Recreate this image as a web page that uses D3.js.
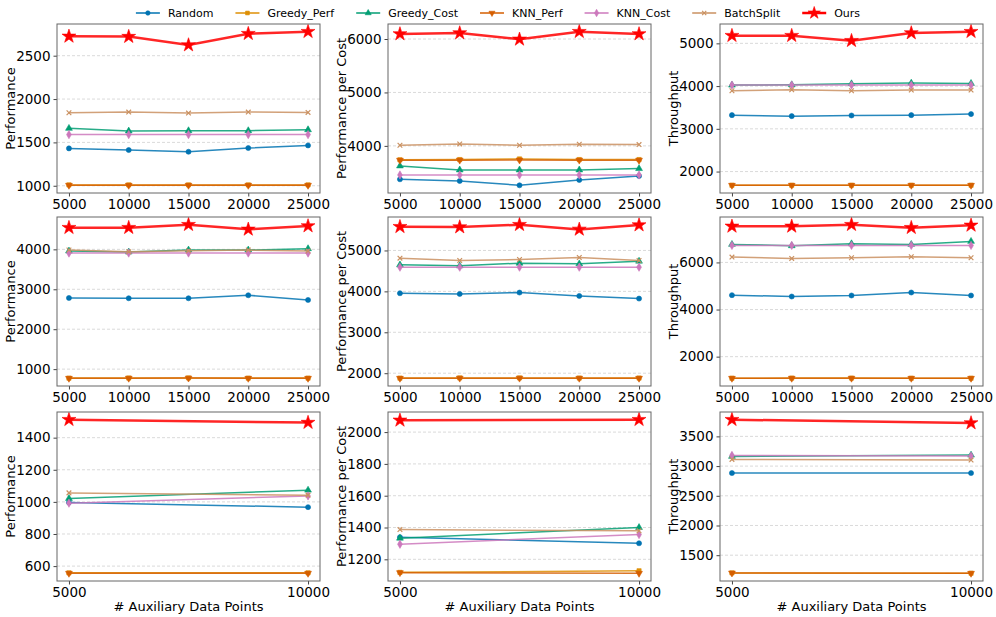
<!DOCTYPE html>
<html>
<head>
<meta charset="utf-8">
<script src="https://cdn.jsdelivr.net/npm/d3@7"></script>
<style>
body{margin:0;background:#fff}
text{font-family:"DejaVu Sans",sans-serif;fill:#000}
</style>
</head>
<body>
<svg id="chart"></svg>
<script>

// methods in the order they are plotted
var methods = ["Random","Greedy_Perf","Greedy_Cost","KNN_Perf","KNN_Cost","BatchSplit","Ours"]
var colors = ["#0173b2","#de8f05","#029e73","#d55e00","#cc78bc","#ca9161","#ff0000"]

var xLong = [5000,10000,15000,20000,25000]
var xShort = [5000,10000]

// one row per method, same order as methods
var r1c1 = [[1431,1412,1392,1435,1465],[1010,1010,1010,1010,1010],[1662,1631,1635,1635,1646],
            [1005,1005,1005,1005,1005],[1590,1590,1590,1590,1590],[1842,1850,1838,1850,1846],[2723,2720,2623,2754,2777]]
var r1c2 = [[3375,3344,3262,3362,3437],[3740,3744,3756,3744,3744],[3625,3550,3550,3550,3575],
            [3731,3733,3735,3733,3731],[3456,3456,3456,3456,3456],[4012,4037,4012,4031,4025],[6094,6112,5994,6137,6094]]
var r1c3 = [[3320,3297,3312,3320,3344],[1680,1680,1680,1680,1680],[4023,4031,4055,4070,4062],
            [1678,1678,1678,1678,1678],[4023,4023,4023,4023,4023],[3890,3914,3890,3906,3906],[5180,5180,5062,5242,5273]]
var r2c1 = [[2783,2775,2775,2850,2733],[775,778,780,775,775],[3958,3933,3983,3983,4017],
            [770,772,775,770,770],[3908,3908,3908,3908,3908],[3983,3941,3966,3983,3958],[4543,4543,4618,4501,4585]]
var r2c2 = [[3954,3938,3971,3889,3824],[1880,1885,1885,1882,1882],[4648,4624,4689,4673,4738],
            [1875,1878,1878,1876,1876],[4591,4591,4591,4591,4591],[4812,4755,4779,4828,4755],[5580,5572,5630,5515,5621]]
var r2c3 = [[4610,4553,4596,4723,4596],[1085,1090,1090,1085,1085],[6766,6709,6794,6766,6894],
            [1080,1082,1082,1080,1080],[6723,6723,6723,6723,6723],[6227,6170,6199,6241,6199],[7532,7532,7603,7475,7574]]
var r3c1 = [[996,967],[558,558],[1021,1073],[555,555],[992,1037],[1056,1042],[1512,1494]]
var r3c2 = [[1339,1301],[1118,1128],[1333,1400],[1116,1112],[1295,1356],[1387,1379],[2074,2078]]
var r3c3 = [[2882,2882],[1202,1197],[3163,3185],[1200,1195],[3180,3169],[3112,3101],[3781,3725]]

var ticks1 = [1000,1500,2000,2500], ticks2 = [4000,5000,6000], ticks3 = [2000,3000,4000,5000]
var ticks4 = [1000,2000,3000,4000], ticks5 = [2000,3000,4000,5000], ticks6 = [2000,4000,6000]
var ticks7 = [600,800,1000,1200,1400], ticks8 = [1200,1400,1600,1800,2000], ticks9 = [1500,2000,2500,3000,3500]

var yTitles = ["Performance","Performance per Cost","Throughput"]
var xTitle = "# Auxiliary Data Points"

var width = 996
var height = 617

var svg = d3.select('#chart')
            .attr('width', width)
            .attr('height', height)

var colLeft = [57,388,720]
var rowTop = [24,217,412]
var pw = 263
var ph = 169

var panels = [
  {data:r1c1, xs:xLong, ticks:ticks1},{data:r1c2, xs:xLong, ticks:ticks2},{data:r1c3, xs:xLong, ticks:ticks3},
  {data:r2c1, xs:xLong, ticks:ticks4},{data:r2c2, xs:xLong, ticks:ticks5},{data:r2c3, xs:xLong, ticks:ticks6},
  {data:r3c1, xs:xShort, ticks:ticks7},{data:r3c2, xs:xShort, ticks:ticks8},{data:r3c3, xs:xShort, ticks:ticks9}
]

// marker for each method
var markerFor = function(i, scale){
  var types = [d3.symbolCircle,d3.symbolSquare,d3.symbolTriangle,d3.symbolTriangle,d3.symbolDiamond,d3.symbolX,d3.symbolStar]
  var sizes = [20,18,20,20,20,16,60]
  return d3.symbol().type(types[i]).size(sizes[i] * scale)()
}
var drawMarker = function(g, i, x, y, scale){
  var p = g.append('path')
           .attr('d', markerFor(i, scale || 1))
           .attr('transform', 'translate(' + x + ',' + y + ')' + (i == 3 ? ' rotate(180)' : ''))
  if (i == 5){
    p.attr('fill','none').attr('stroke',colors[i]).attr('stroke-width',1.2)
  } else {
    p.attr('fill',colors[i]).attr('stroke',colors[i]).attr('stroke-width',0.6)
  }
}

panels.forEach(function(pn, k){
  var col = k % 3
  var row = Math.floor(k / 3)
  var g = svg.append('g').attr('transform','translate(' + colLeft[col] + ',' + rowTop[row] + ')')

  var xmin = d3.min(pn.xs), xmax = d3.max(pn.xs)
  var xpad = (xmax - xmin) * 0.05
  var xScale = d3.scaleLinear().domain([xmin - xpad, xmax + xpad]).range([0, pw])

  var all = d3.merge(pn.data)
  var ymin = d3.min(all), ymax = d3.max(all)
  var ypad = (ymax - ymin) * 0.05
  var yScale = d3.scaleLinear().domain([ymin - ypad, ymax + ypad]).range([ph, 0])

  // grid
  g.selectAll('.grid')
   .data(pn.ticks)
   .enter()
   .append('line')
   .attr('x1',0).attr('x2',pw)
   .attr('y1',function(d){return yScale(d)})
   .attr('y2',function(d){return yScale(d)})
   .attr('stroke','#d0d0d0')
   .attr('stroke-width',0.8)
   .attr('stroke-dasharray','3,2')

  var yAxis = g.append('g').call(d3.axisLeft(yScale).tickValues(pn.ticks).tickSize(3.5).tickPadding(3).tickFormat(d3.format('d')))
  var xAxis = g.append('g').attr('transform','translate(0,' + ph + ')')
               .call(d3.axisBottom(xScale).tickValues(pn.xs).tickSize(3.5).tickPadding(3).tickFormat(d3.format('d')))
  ;[yAxis, xAxis].forEach(function(ax){
    ax.select('.domain').remove()
    ax.selectAll('line').attr('stroke','#444')
    ax.selectAll('text').style('font-size','13.5px').style('font-family','"DejaVu Sans",sans-serif').attr('fill','#000')
  })

  var line = d3.line()
               .x(function(d, i){return xScale(pn.xs[i])})
               .y(function(d){return yScale(d)})

  pn.data.forEach(function(series, i){
    g.append('path')
     .attr('d', line(series))
     .attr('fill','none')
     .attr('stroke', colors[i])
     .attr('stroke-width', i == 6 ? 2.5 : 1.5)
     .attr('opacity', 0.85)
    series.forEach(function(v, j){
      drawMarker(g, i, xScale(pn.xs[j]), yScale(v))
    })
  })

  g.append('rect')
   .attr('width',pw).attr('height',ph)
   .attr('fill','none')
   .attr('stroke','#666')
   .attr('stroke-width',1)

  svg.append('text')
     .attr('transform','translate(' + (colLeft[col] - 42) + ',' + (rowTop[row] + ph / 2) + ') rotate(-90)')
     .attr('text-anchor','middle')
     .style('font-size','13px')
     .text(yTitles[col])

  if (row == 2){
    svg.append('text')
       .attr('x', colLeft[col] + pw / 2)
       .attr('y', rowTop[row] + ph + 30)
       .attr('text-anchor','middle')
       .style('font-size','13px')
       .text(xTitle)
  }
})

// legend across the top
var legend = svg.append('g')
var lx = 0
methods.forEach(function(m, i){
  var it = legend.append('g')
  it.append('line').attr('x1',0).attr('x2',24).attr('y1',0).attr('y2',0)
    .attr('stroke',colors[i]).attr('stroke-width', i == 6 ? 2.5 : 1.5)
  drawMarker(it, i, 12, 0, 0.8)
  var t = it.append('text').attr('x',32).attr('y',4).style('font-size','11px').text(m)
  it.attr('transform','translate(' + lx + ',0)')
  lx += 32 + t.node().getComputedTextLength() + 22
})
lx -= 22
legend.attr('transform','translate(' + (498 - lx / 2) + ',13)')

</script>
</body>
</html>
